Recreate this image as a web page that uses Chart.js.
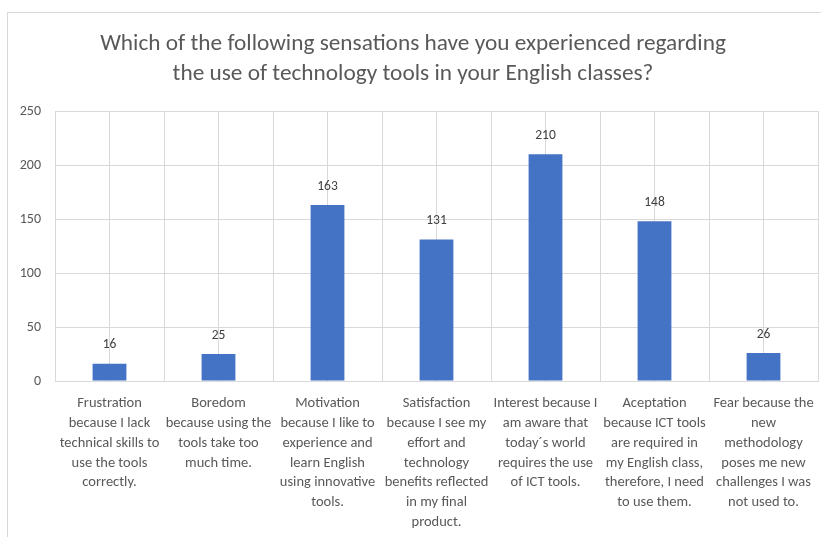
<!DOCTYPE html>
<html>
<head>
<meta charset="utf-8">
<script src="https://cdn.jsdelivr.net/npm/chart.js@4/dist/chart.umd.min.js"></script>
<style>
  html, body { margin: 0; padding: 0; background: #fff; }
  #frame {
    position: absolute; left: 7px; top: 12px;
    width: 814px; height: 525px;
    border-left: 1px solid #d9d9d9; border-top: 1px solid #d9d9d9;
  }
</style>
</head>
<body>
<div id="frame"><canvas id="chart"></canvas></div>
<script>
var titleLines = [
  "Which of the following sensations have you experienced regarding",
  "the use of technology tools in your English classes?"
];
var categories = [
  ["Frustration", "because I lack", "technical skills to", "use the tools", "correctly."],
  ["Boredom", "because using the", "tools take too", "much time."],
  ["Motivation", "because I like to", "experience and", "learn English", "using innovative", "tools."],
  ["Satisfaction", "because I see my", "effort and", "technology", "benefits reflected", "in my final", "product."],
  ["Interest because I", "am aware that", "today\u00b4s world", "requires the use", "of ICT tools."],
  ["Aceptation", "because ICT tools", "are required in", "my English class,", "therefore, I need", "to use them."],
  ["Fear because the", "new", "methodology", "poses me new", "challenges I was", "not used to."]
];
var counts = [16, 25, 163, 131, 210, 148, 26];
var yTicks = [0, 50, 100, 150, 200, 250];

var fontFamily = "Carlito, Lato, 'Liberation Sans', sans-serif";
var textColor = "#595959";
var gridColor = "#d9d9d9";

// values above bars
var valueLabels = {
  id: "valueLabels",
  afterDatasetsDraw(chart) {
    const ctx = chart.ctx;
    ctx.save();
    ctx.font = "13.5px " + fontFamily;
    ctx.fillStyle = "#404040";
    ctx.textAlign = "center";
    ctx.textBaseline = "bottom";
    chart.getDatasetMeta(0).data.forEach((bar, i) => {
      ctx.fillText(counts[i], bar.x, bar.y - 12);
    });
    ctx.restore();
  }
};

new Chart(document.getElementById("chart"), {
  type: "bar",
  data: {
    labels: categories,
    datasets: [{
      data: counts,
      backgroundColor: "#4472c4",
      barPercentage: 0.31,
      categoryPercentage: 1
    }]
  },
  options: {
    responsive: true,
    maintainAspectRatio: false,
    animation: false,
    layout: { padding: { top: 16, right: 4, left: 0, bottom: 0 } },
    plugins: {
      legend: { display: false },
      tooltip: { enabled: false },
      title: {
        display: true,
        text: titleLines,
        color: textColor,
        font: { family: fontFamily, size: 23.3, weight: "normal", lineHeight: 1.29 },
        padding: { top: 0, bottom: 22 }
      }
    },
    scales: {
      x: {
        afterFit: (axis) => { axis.height = 157; axis.paddingLeft = 0; axis.paddingRight = 0; },
        grid: { color: gridColor, drawTicks: false, offset: true },
        border: { color: gridColor },
        ticks: {
          color: textColor,
          autoSkip: false,
          maxRotation: 0,
          padding: 13,
          font: { family: fontFamily, size: 14.5, lineHeight: 1.36 }
        }
      },
      x2: {
        type: "category",
        position: "bottom",
        offset: true,
        afterFit: (axis) => { axis.height = 0; axis.paddingLeft = 0; axis.paddingRight = 0; },
        grid: { color: gridColor, drawTicks: false, offset: false },
        border: { display: false },
        ticks: { display: false }
      },
      y: {
        min: 0,
        max: 250,
        afterBuildTicks: (axis) => { axis.ticks = yTicks.map((v) => ({ value: v })); },
        afterFit: (axis) => { axis.width = 47; },
        grid: { color: gridColor, drawTicks: false },
        border: { display: false },
        ticks: {
          color: textColor,
          padding: 14,
          font: { family: fontFamily, size: 14 }
        }
      }
    }
  },
  plugins: [valueLabels]
});
</script>
</body>
</html>
